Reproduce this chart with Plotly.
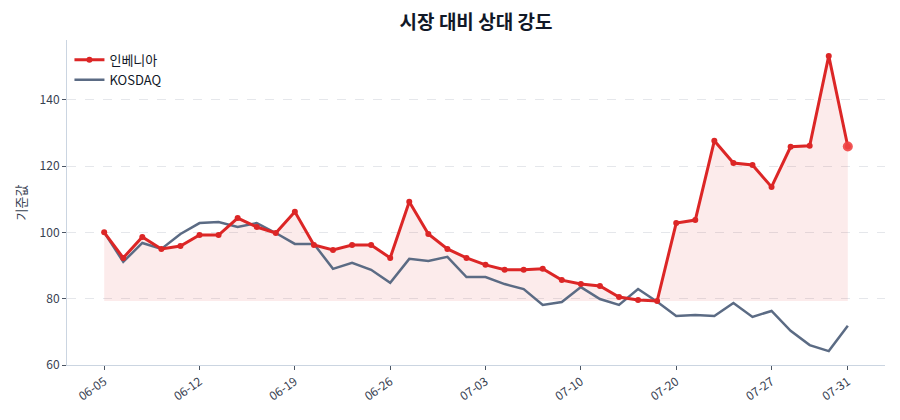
import plotly.graph_objects as go

dates = ["06-05", "06-06", "06-09", "06-10", "06-11", "06-12", "06-13", "06-16", "06-17", "06-18",
         "06-19", "06-20", "06-23", "06-24", "06-25", "06-26", "06-27", "06-30", "07-01", "07-02",
         "07-03", "07-04", "07-07", "07-08", "07-09", "07-10", "07-11", "07-14", "07-16", "07-18",
         "07-20", "07-22", "07-23", "07-24", "07-25", "07-27", "07-28", "07-29", "07-30", "07-31"]

invenia = [100.0, 92.3, 98.6, 95.0, 95.9, 99.2, 99.2, 104.3, 101.6, 99.8,
           106.2, 96.2, 94.7, 96.2, 96.2, 92.3, 109.2, 99.5, 95.0, 92.3,
           90.2, 88.7, 88.7, 89.0, 85.6, 84.4, 83.8, 80.5, 79.6, 79.3,
           102.8, 103.7, 127.6, 120.9, 120.3, 113.7, 125.8, 126.1, 153.2, 125.9]

kosdaq = [100.0, 91.1, 96.8, 95.0, 99.5, 102.8, 103.1, 101.6, 102.8, 99.8,
          96.5, 96.5, 89.0, 90.8, 88.7, 84.8, 92.0, 91.4, 92.6, 86.5,
          86.5, 84.4, 82.9, 78.1, 79.0, 83.5, 79.9, 78.1, 82.9, 79.1,
          74.8, 75.1, 74.8, 78.7, 74.5, 76.3, 70.3, 66.0, 64.2, 71.8]

tick_labels = ["06-05", "06-12", "06-19", "06-26", "07-03", "07-10", "07-20", "07-27", "07-31"]

RED = "#dc2626"
SLATE = "#5b6b84"
base = min(invenia)

fig = go.Figure()

# shaded area between the red line and its lowest value
fig.add_trace(go.Scatter(x=dates, y=[base] * len(dates), mode="lines",
                         line=dict(width=0), showlegend=False, hoverinfo="skip"))
fig.add_trace(go.Scatter(x=dates, y=invenia, mode="lines", line=dict(width=0),
                         fill="tonexty", fillcolor="rgba(220,38,38,0.09)",
                         showlegend=False, hoverinfo="skip"))

fig.add_trace(go.Scatter(x=dates, y=kosdaq, name="KOSDAQ", mode="lines",
                         line=dict(color=SLATE, width=2.5)))
fig.add_trace(go.Scatter(x=dates, y=invenia, name="인베니아", mode="lines+markers",
                         line=dict(color=RED, width=3), marker=dict(size=6, color=RED)))
fig.add_trace(go.Scatter(x=[dates[-1]], y=[invenia[-1]], mode="markers",
                         marker=dict(size=10, color="#ef4444", opacity=0.9),
                         showlegend=False))

# page body adds an 8px offset, so margins are trimmed to compensate
fig.update_layout(
    width=900, height=420,
    margin=dict(l=59, r=23, t=32, b=63),
    paper_bgcolor="white", plot_bgcolor="white",
    font=dict(family="Noto Sans CJK KR, Noto Sans, sans-serif", color="#374151", size=12),
    title=dict(text="<b>시장 대비 상대 강도</b>", xref="paper", x=0.5, xanchor="center",
               y=0.967, yanchor="middle", font=dict(size=19, color="#111827")),
    legend=dict(x=0.003, y=0.985, xanchor="left", yanchor="top", bgcolor="rgba(0,0,0,0)",
                font=dict(size=13, color="#111827"), traceorder="reversed",
                itemwidth=30),
    showlegend=True,
)

fig.update_xaxes(
    type="category", range=[-1.95, 40.95], automargin=False,
    tickvals=tick_labels, ticktext=tick_labels, tickangle=-35,
    showgrid=False, showline=True, linecolor="#cbd5e1", linewidth=1,
    ticks="outside", ticklen=4, tickcolor="#4b5563",
    tickfont=dict(size=12, color="#374151"),
)
fig.update_yaxes(
    range=[60, 158], tickvals=[60, 80, 100, 120, 140], automargin=False,
    showgrid=True, gridcolor="#e5e7eb", griddash="dash", gridwidth=1,
    showline=True, linecolor="#cbd5e1", linewidth=1, zeroline=False,
    ticks="outside", ticklen=4, tickcolor="#4b5563",
    tickfont=dict(size=12, color="#374151"),
    title=dict(text="기준값", font=dict(size=13, color="#374151"), standoff=10),
)

fig.write_html("out.html")
